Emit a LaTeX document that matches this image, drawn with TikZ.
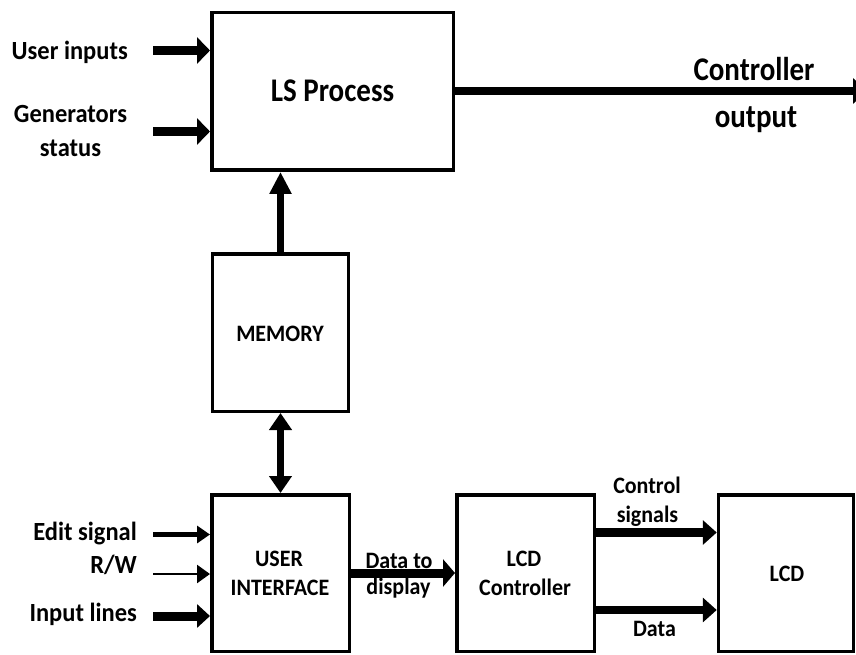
\documentclass[tikz,border=0pt]{standalone}
\usepackage{fontspec}
\setmainfont{Carlito}
\usetikzlibrary{arrows.meta}
% taller lettering: stretch a label vertically about its baseline
\newcommand\tallA[1]{\scalebox{1}[1.14]{#1}}
\newcommand\tallB[1]{\scalebox{1}[1.07]{#1}}
\begin{document}
\begin{tikzpicture}[x=1pt,y=-1pt,
  blk/.style={draw, line width=3.5pt, inner sep=0pt, fill=white},
  txs/.style={inner sep=0pt, anchor=base, font=\bfseries\fontsize{22}{26}\selectfont},
  txm/.style={inner sep=0pt, anchor=base, font=\bfseries\fontsize{24.5}{29}\selectfont},
  txl/.style={inner sep=0pt, anchor=base, font=\bfseries\fontsize{29}{34}\selectfont},
  fat/.style={line width=9pt, -{Triangle[length=13pt,width=26pt]}},
  mid/.style={line width=5pt, -{Triangle[length=13pt,width=17pt]}},
  thin/.style={line width=2.5pt, -{Triangle[length=13pt,width=18pt]}},
]
\useasboundingbox (0,0) rectangle (856,655);
\fill[white] (0,0) rectangle (856,655);
\clip (0,0) rectangle (856,655);

% blocks
\node[blk, minimum width=241.5pt, minimum height=157.5pt] (ls)   at (332.5,91.5) {};
\node[blk, minimum width=136pt,   minimum height=157.5pt] (mem)  at (280.5,332.5) {};
\node[blk, minimum width=137.5pt, minimum height=156.5pt] (ui)   at (280.5,573) {};
\node[blk, minimum width=137.5pt, minimum height=156.5pt] (lcdc) at (525.5,573) {};
\node[blk, minimum width=135pt,   minimum height=156.5pt] (lcd)  at (786,573) {};

% block captions
\node[txl] (lsT) at (332.5,101.5) {\tallA{LS Process}};
\node[txs] (memT) at (280,341.7) {\tallB{MEMORY}};
\node[txs] (uiT1) at (279,566.7) {\tallB{USER}};
\node[txs] (uiT2) at (280,595) {\tallB{INTERFACE}};
\node[txs] (lcdcT1) at (524,566.7) {\tallB{LCD}};
\node[txs] (lcdcT2) at (525,595) {\tallB{Controller}};
\node[txs] (lcdT) at (787,581) {\tallB{LCD}};

% free ends of the input arrows
\coordinate (uIn)  at (153,50.5);
\coordinate (gIn)  at (153,131.5);
\coordinate (eIn)  at (153,534.5);
\coordinate (rwIn) at (153,574);
\coordinate (iIn)  at (153,616);
\coordinate (cOut) at (867,91);

% inputs of the LS process
\draw[fat] (uIn) -- (uIn -| ls.west);
\draw[fat] (gIn) -- (gIn -| ls.west);
\node[txm, anchor=base east] (uT) at (128,60) {\tallB{User inputs}};
\node[txm] (gT1) at (70.5,123) {\tallB{Generators}};
\node[txm] (gT2) at (70.5,156.5) {\tallB{status}};

% controller output
\draw[line width=8pt, -{Triangle[length=14pt,width=25pt]}] (cOut -| ls.east) -- (cOut);
\node[txl] (coT1) at (754,80.5) {\tallA{Controller}};
\node[txl] (coT2) at (756,128) {\tallA{output}};

% memory links
\draw[line width=7pt, -{Triangle[length=22pt,width=21pt]}] (mem.north) -- (ls.south -| mem.north);
\draw[line width=7pt, {Triangle[length=17pt,width=22pt]}-{Triangle[length=17pt,width=22pt]}] (mem.south) -- (ui.north -| mem.south);

% inputs of the user interface
\draw[mid]  (eIn)  -- (eIn -| ui.west);
\draw[thin] (rwIn) -- (rwIn -| ui.west);
\draw[line width=9pt, -{Triangle[length=13pt,width=23pt]}] (iIn) -- (iIn -| ui.west);
\node[txm, anchor=base east] (eT)  at (137,540) {\tallB{Edit signal}};
\node[txm, anchor=base east] (rwT) at (137,573) {\tallB{R/W}};
\node[txm, anchor=base east] (iT)  at (137,621.5) {\tallB{Input lines}};

% user interface to LCD controller
\coordinate (dd) at (0,573);
\draw[line width=9pt, -{Triangle[length=12pt,width=27pt]}] (dd -| ui.east) -- (dd -| lcdc.west);
\node[txs] (ddT1) at (399,568) {\tallB{Data to}};
\node[txs] (ddT2) at (398.5,594) {\tallB{display}};

% LCD controller to LCD
\coordinate (cs) at (0,532.5);
\coordinate (dt) at (0,610);
\draw[line width=9pt, -{Triangle[length=14pt,width=24pt]}] (cs -| lcdc.east) -- (cs -| lcd.west);
\draw[line width=8pt, -{Triangle[length=14pt,width=24pt]}] (dt -| lcdc.east) -- (dt -| lcd.west);
\node[txs] (csT1) at (647,493) {\tallB{Control}};
\node[txs] (csT2) at (647.5,522) {\tallB{signals}};
\node[txs] (dtT)  at (654.5,636.7) {\tallB{Data}};
\end{tikzpicture}
\end{document}
